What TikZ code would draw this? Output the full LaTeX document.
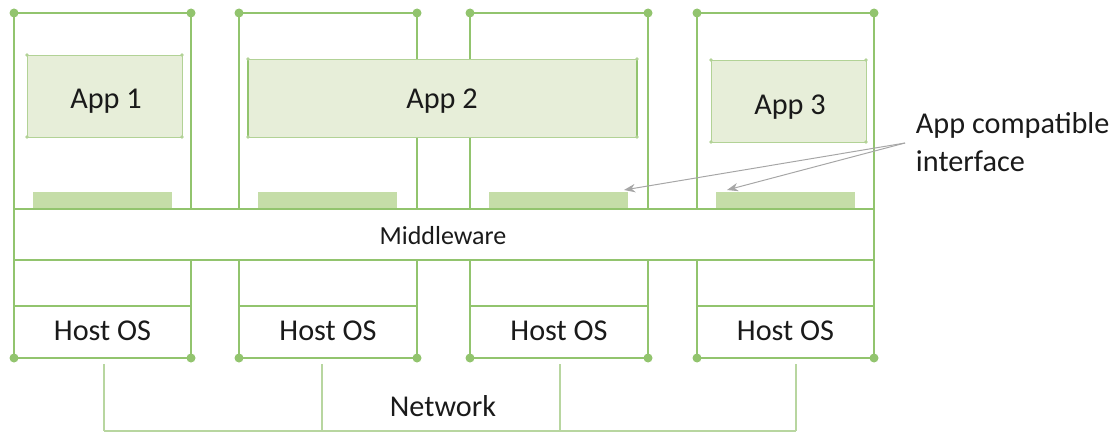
\documentclass[tikz,border=0pt]{standalone}
\usepackage{fontspec}
\setmainfont{Carlito}
\usepackage{tikz}
\usetikzlibrary{arrows.meta,calc}
\definecolor{linegreen}{RGB}{146,196,110}
\definecolor{netgreen}{RGB}{184,214,160}
\definecolor{appgreen}{RGB}{231,238,217}
\definecolor{appline}{RGB}{178,210,150}
\definecolor{bargreen}{RGB}{197,221,168}
\definecolor{textdark}{RGB}{26,26,26}

\begin{document}
\begin{tikzpicture}[x=0.025cm,y=-0.025cm,
    host/.style={draw=linegreen, line width=1.7pt},
    appbox/.style={fill=appgreen, draw=appline, line width=0.7pt},
    label/.style={text=textdark, font=\fontsize{21.5}{26}\selectfont},
    pointer/.style={draw=gray!70, line width=0.7pt, -{Stealth[length=8pt,width=6pt]}}]
    \useasboundingbox (0,0) rectangle (1116,433);

    % host columns
    \foreach \l/\r [count=\i] in {14/191, 239/417, 470/648, 697/874}
    {
    \draw[host] (\l,358) to (\l,13) to (\r,13) to (\r,358) to (\l,358);
    \draw[host] (\l,306) to (\r,306);
    \fill[bargreen] (\l+19,192) rectangle (\l+158,208);
    \node[label] (host\i) at ({(\l+\r)/2},331) {Host OS};
    \foreach \p in {(\l,13),(\r,13),(\l,358),(\r,358)}
    \fill[linegreen] \p circle (3.2pt);
    }

    % middleware
    \draw[host, fill=white] (14,209) rectangle (874,260);
    \node[label, font=\fontsize{18.5}{22}\selectfont] (mw) at (443,236) {Middleware};

    % apps
    \draw[appbox] (27,55) rectangle (182,137);
    \node[label] (app1) at (106,101) {App 1};
    \draw[appbox] (248,59) rectangle (637,137);
    \draw[linegreen, line width=1.7pt] (248,59) to (248,137) (637,59) to (637,137);
    \node[label] (app2) at (442,101) {App 2};
    \draw[appbox] (711,60) rectangle (866,142);
    \node[label] (app3) at (790,107) {App 3};
    \foreach \p in {(27,55),(182,55),(27,137),(182,137),(248,59),(637,59),(248,137),(637,137),(711,60),(866,60),(711,142),(866,142)}
    \fill[appline] \p circle (1.4pt);

    % interface callout
    \node[label, anchor=west, align=left, font=\fontsize{21.5}{27}\selectfont] (iface) at (911,142) {App compatible\\interface};
    \coordinate (split) at (905,143);
    \coordinate (bar3) at (624,190);
    \coordinate (bar4) at (727,190);
    \draw[pointer] (split) to (bar3);
    \draw[pointer] (split) to (bar4);

    % network
    \foreach \x [count=\i] in {104,322,560,796}
    {
    \coordinate (net\i) at (\x,364);
    \draw[netgreen, line width=0.9pt] (net\i) to (\x,431);
    }
    \draw[netgreen, line width=0.9pt] (104,431) to (796,431);
    \node[label] (net) at (443,406) {Network};
\end{tikzpicture}
\end{document}
